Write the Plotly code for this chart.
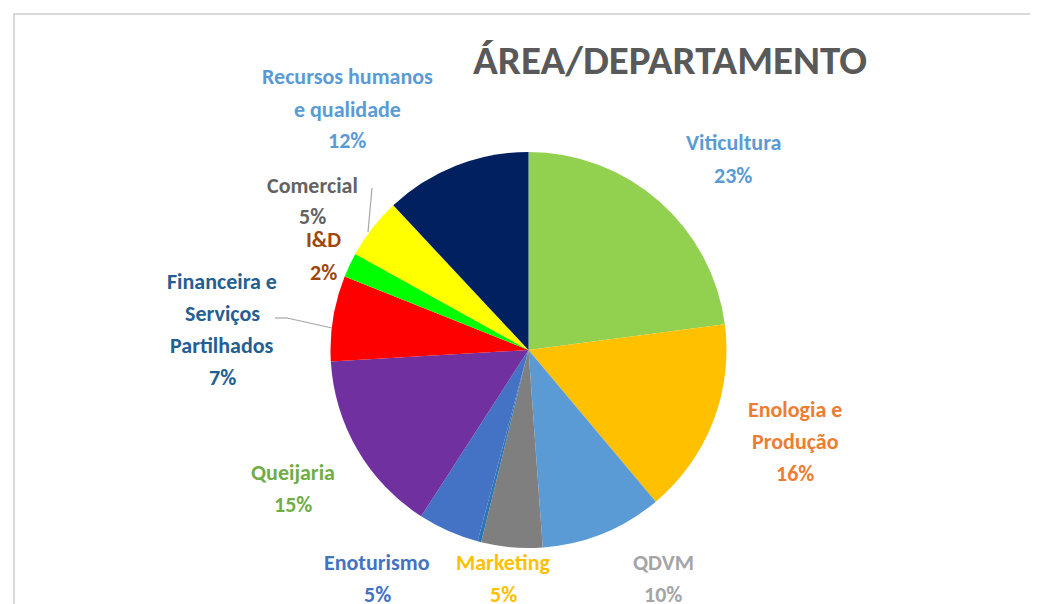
import plotly.graph_objects as go

# Dados do gráfico (percentagens)
areas = ["Viticultura", "Enologia e Produção", "QDVM", "Marketing", "",
         "Enoturismo", "Queijaria", "Financeira e Serviços Partilhados",
         "I&D", "Comercial", "Recursos humanos e qualidade"]
valores = [23, 16, 10, 5, 0.3, 5, 15, 7, 2, 5, 12]
cores_fatias = ["#92D050", "#FFC000", "#5B9BD5", "#7F7F7F", "#2E75B6",
                "#4472C4", "#7030A0", "#FF0000", "#00FF00", "#FFFF00", "#002060"]

W, H = 1038, 604
OFF = 8  # margem do body da página html
FONTE = "Carlito, Lato, sans-serif"

# Linhas de cada rótulo, cor do texto e posição (centro x, y da 1ª linha) em píxeis
rotulos = {
    "Viticultura": (["Viticultura"], "#5B9BD5", 733, 143),
    "Enologia e Produção": (["Enologia e", "Produção"], "#ED7D31", 795, 409),
    "QDVM": (["QDVM"], "#A5A5A5", 663, 562),
    "Marketing": (["Marketing"], "#FFC000", 503, 562),
    "Enoturismo": (["Enoturismo"], "#4472C4", 377, 562),
    "Queijaria": (["Queijaria"], "#70AD47", 293, 472),
    "Financeira e Serviços Partilhados": (["Financeira e", "Serviços", "Partilhados"], "#255E91", 222, 281),
    "I&D": (["I&D"], "#9E480E", 323, 240),
    "Comercial": (["Comercial"], "#636363", 312, 185),
    "Recursos humanos e qualidade": (["Recursos humanos", "e qualidade"], "#5B9BD5", 347, 77),
}
passo = 32


def px(x, y):
    # píxeis da janela -> coordenadas paper
    return (x - OFF) / W, 1 - (y - OFF) / H


cx, cy, r = 528.5, 350, 198
x0d, y1d = px(cx - r, cy - r)
x1d, y0d = px(cx + r, cy + r)

fig = go.Figure(go.Pie(
    labels=areas,
    values=valores,
    sort=False,
    direction="clockwise",
    rotation=0,
    textinfo="none",
    hoverinfo="label+percent",
    marker=dict(colors=cores_fatias, line=dict(width=0)),
    domain=dict(x=[x0d, x1d], y=[y0d, y1d]),
    showlegend=False,
))

total = sum(valores)
anotacoes = []
for area, v in zip(areas, valores):
    if area not in rotulos:
        continue
    linhas, cor, x, y = rotulos[area]
    linhas = linhas + [f"{round(v / total * 100)}%"]
    for i, txt in enumerate(linhas):
        ax, ay = px(x, y + i * passo)
        anotacoes.append(dict(
            x=ax, y=ay, xref="paper", yref="paper",
            text=f"<b>{txt}</b>", showarrow=False, xanchor="center", yanchor="middle",
            font=dict(family=FONTE, size=22, color=cor),
        ))

# Título
tx, ty = px(670, 60)
anotacoes.append(dict(
    x=tx, y=ty, xref="paper", yref="paper",
    text="<b>ÁREA/DEPARTAMENTO</b>", showarrow=False,
    xanchor="center", yanchor="middle",
    font=dict(family=FONTE, size=41, color="#595959"),
))

fx0, fy1 = px(14, 14)
formas = [
    # moldura do gráfico
    dict(type="rect", xref="paper", yref="paper",
         x0=fx0, x1=1.05, y0=-0.05, y1=fy1,
         line=dict(color="#D9D9D9", width=2)),
]
# linhas de chamada
for pts in ([(372, 188), (368, 232)], [(275, 318), (287, 318), (332, 328)]):
    for (xa, ya), (xb, yb) in zip(pts[:-1], pts[1:]):
        x0, y0 = px(xa, ya)
        x1, y1 = px(xb, yb)
        formas.append(dict(type="line", xref="paper", yref="paper",
                           x0=x0, y0=y0, x1=x1, y1=y1,
                           line=dict(color="#A6A6A6", width=1.2)))

fig.update_layout(
    width=W, height=H,
    margin=dict(l=0, r=0, t=0, b=0),
    paper_bgcolor="white",
    plot_bgcolor="white",
    annotations=anotacoes,
    shapes=formas,
)

fig.write_html("out.html")
